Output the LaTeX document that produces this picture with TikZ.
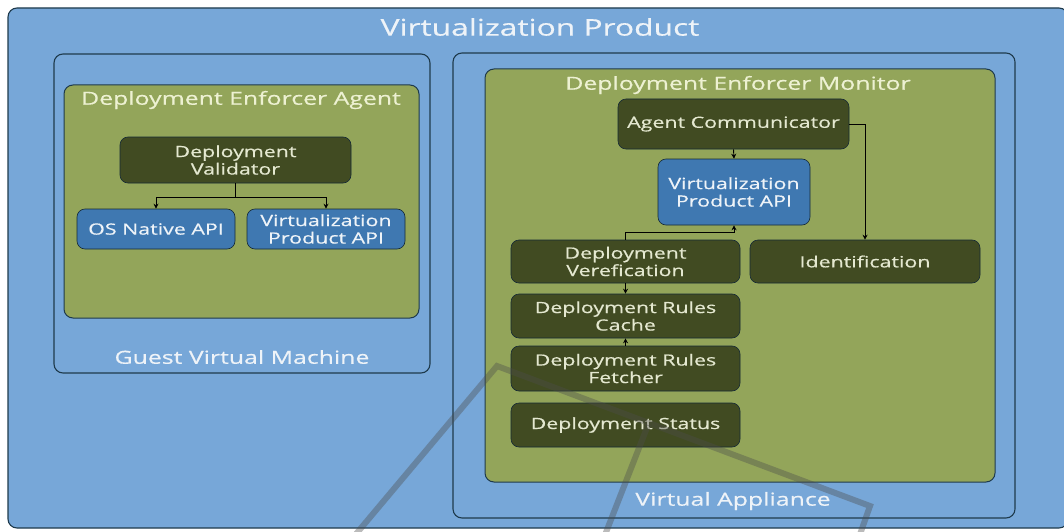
\documentclass[tikz,border=0pt]{standalone}
\usepackage{fontspec}
\setmainfont{Open Sans}[FakeStretch=1.38,FakeBold=0.5]
\usetikzlibrary{arrows.meta}
\definecolor{skyb}{HTML}{77A7D8}
\definecolor{olive}{HTML}{93A55A}
\definecolor{darkol}{HTML}{414B22}
\definecolor{apiblue}{HTML}{3F78B1}
\definecolor{edge}{HTML}{1E3A4C}
\definecolor{txtw}{HTML}{EEF3F8}
\definecolor{txty}{HTML}{EDF1D2}
\definecolor{txtn}{HTML}{E4E8D0}
\tikzset{
  boxshape/.style={draw=edge, line width=1.1pt, rounded corners=9pt},
  outerbox/.style={boxshape, fill=skyb},
  zonebox/.style={boxshape, fill=olive, line width=1pt},
  comp/.style={draw=edge!70!black, line width=0.6pt, fill=darkol, rounded corners=8pt, text=txtn,
     font=\fontsize{15.5}{17.5}\selectfont, align=center, inner sep=0pt},
  api/.style={comp, fill=apiblue, text=txtw},
  ttl/.style={font=\fontsize{23}{25}\selectfont, text=txtw},
  sub/.style={font=\fontsize{18}{20}\selectfont, text=txty},
  lbl/.style={font=\fontsize{18}{20}\selectfont, text=txtw},
  arr/.style={draw=black, line width=0.9pt, -{Stealth[length=5pt,width=5pt]}},
  wmark/.style={draw=black!70, line width=6pt, opacity=0.38, line join=miter}
}
\begin{document}
\begin{tikzpicture}[x=1pt,y=-1pt]
\useasboundingbox (0,0) rectangle (1064,532);
% outer containers
\draw[outerbox] (8,8) rectangle (1068,528);
\node[ttl] (tprod) at (540,27) {Virtualization Product};
\draw[outerbox] (54,54) rectangle (430,373);
\node[lbl] (tguest) at (242,357) {Guest Virtual Machine};
\draw[zonebox] (64,85) rectangle (419,318);
\node[sub] (tagent) at (241,100) {Deployment Enforcer Agent};
\draw[outerbox] (453,53) rectangle (1015,518);
\node[lbl] (tapp) at (733,501) {Virtual Appliance};
\draw[zonebox] (485,69) rectangle (995,482);
\node[sub] (tmon) at (738,85) {Deployment Enforcer Monitor};
% agent components
\node[comp, minimum width=231pt, minimum height=46pt] (val) at (235.5,160) {Deployment\\Validator};
\node[api, minimum width=158pt, minimum height=40pt] (osapi) at (156,229) {OS Native API};
\node[api, minimum width=158pt, minimum height=40pt] (vpa1) at (326,229) {Virtualization\\Product API};
% monitor components
\node[comp, minimum width=231pt, minimum height=50pt] (ac) at (733.5,124) {Agent Communicator};
\node[api, minimum width=152pt, minimum height=66pt] (vpa2) at (734,192) {Virtualization\\Product API};
\node[comp, minimum width=229pt, minimum height=43pt] (dv) at (625.5,261.5) {Deployment\\Verefication};
\node[comp, minimum width=230pt, minimum height=43pt] (ident) at (865,261.5) {Identification};
\node[comp, minimum width=229pt, minimum height=44pt] (cache) at (625.5,316) {Deployment Rules\\Cache};
\node[comp, minimum width=229pt, minimum height=45pt] (fetch) at (625.5,368.5) {Deployment Rules\\Fetcher};
\node[comp, minimum width=229pt, minimum height=44pt] (status) at (625.5,425) {Deployment Status};
% connectors
\coordinate (vj) at (235.5,197);
\draw[line width=0.9pt] (val.south) -- (vj);
\draw[arr] (vj) -| (osapi.north);
\draw[arr] (vj) -| (vpa1.north);
\draw[arr] (ac.south) -- (vpa2.north);
\draw[arr] (ac.east) -| (ident.north);
\draw[arr] (dv.north) -- ++(0,-7) -| (vpa2.south);
\draw[arr] (dv.south) -- (cache.north);
\draw[arr] (fetch.north) -- (cache.south);
% watermark
\draw[wmark] (351,540) -- (497,366) -- (870,506) -- (858,540);
\draw[wmark] (603,540) -- (648,425);
\end{tikzpicture}
\end{document}
